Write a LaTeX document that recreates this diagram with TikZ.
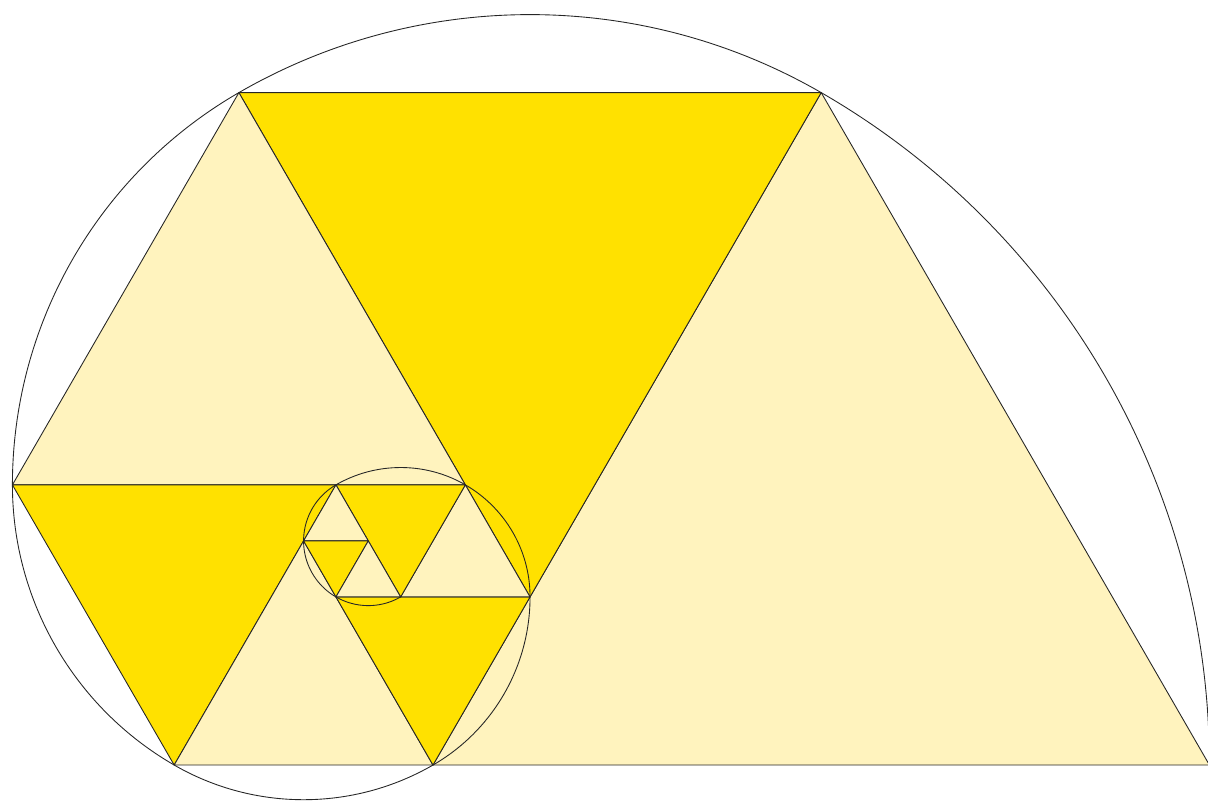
\documentclass[tikz,border=0pt]{standalone}
\usetikzlibrary{calc}
\definecolor{lite}{RGB}{255,243,190}
\definecolor{gold}{RGB}{255,225,0}
\tikzset{
  pale/.style={fill=lite, draw=black!85, line width=0.5pt, line join=round},
  deep/.style={fill=gold, draw=black!85, line width=0.5pt, line join=round},
  spiral/.style={draw=black!85, line width=0.5pt},
}
\begin{document}
\begin{tikzpicture}[x=1.294cm, y=1.294cm]
  \useasboundingbox (-6.692,-0.556) rectangle (11.978,11.824);
  % lattice points: a*(1,0) + b*(60:1)
  \coordinate (a) at (0,0);
  \coordinate (b) at (12,0);
  \coordinate (c) at (60:12);
  \coordinate (d) at ($(-9,0)+(60:12)$);
  \coordinate (e) at (60:3);
  \coordinate (f) at ($(-9,0)+(60:5)$);
  \coordinate (g) at ($(-2,0)+(60:5)$);
  \coordinate (h) at ($(-4,0)+(60:5)$);
  \coordinate (i) at (-4,0);
  \coordinate (j) at ($(-4,0)+(60:4)$);
  \coordinate (k) at ($(-3,0)+(60:3)$);
  \coordinate (l) at ($(-2,0)+(60:3)$);
  \coordinate (m) at ($(-3,0)+(60:4)$);

  \draw[pale] (a) -- (b) -- (c) -- cycle;
  \draw[deep] (d) -- (c) -- (e) -- cycle;
  \draw[pale] (d) -- (f) -- (g) -- cycle;
  \draw[deep] (f) -- (h) -- (i) -- cycle;
  \draw[pale] (i) -- (a) -- (j) -- cycle;
  \draw[deep] (k) -- (e) -- (a) -- cycle;
  \draw[pale] (g) -- (e) -- (l) -- cycle;
  \draw[deep] (h) -- (g) -- (l) -- cycle;
  \draw[pale] (j) -- (h) -- (m) -- cycle;
  \draw[deep] (j) -- (m) -- (k) -- cycle;
  \draw[pale] (k) -- (m) -- (l) -- cycle;

  % spiral of arcs, each centred on a vertex
  \draw[spiral] (b) arc[start angle=0, end angle=60, radius=12]
    arc[start angle=60, end angle=120, radius=9]
    arc[start angle=120, end angle=180, radius=7]
    arc[start angle=180, end angle=240, radius=5]
    arc[start angle=240, end angle=300, radius=4]
    arc[start angle=300, end angle=360, radius=3]
    arc[start angle=0, end angle=120, radius=2]
    arc[start angle=120, end angle=300, radius=1];
\end{tikzpicture}
\end{document}
